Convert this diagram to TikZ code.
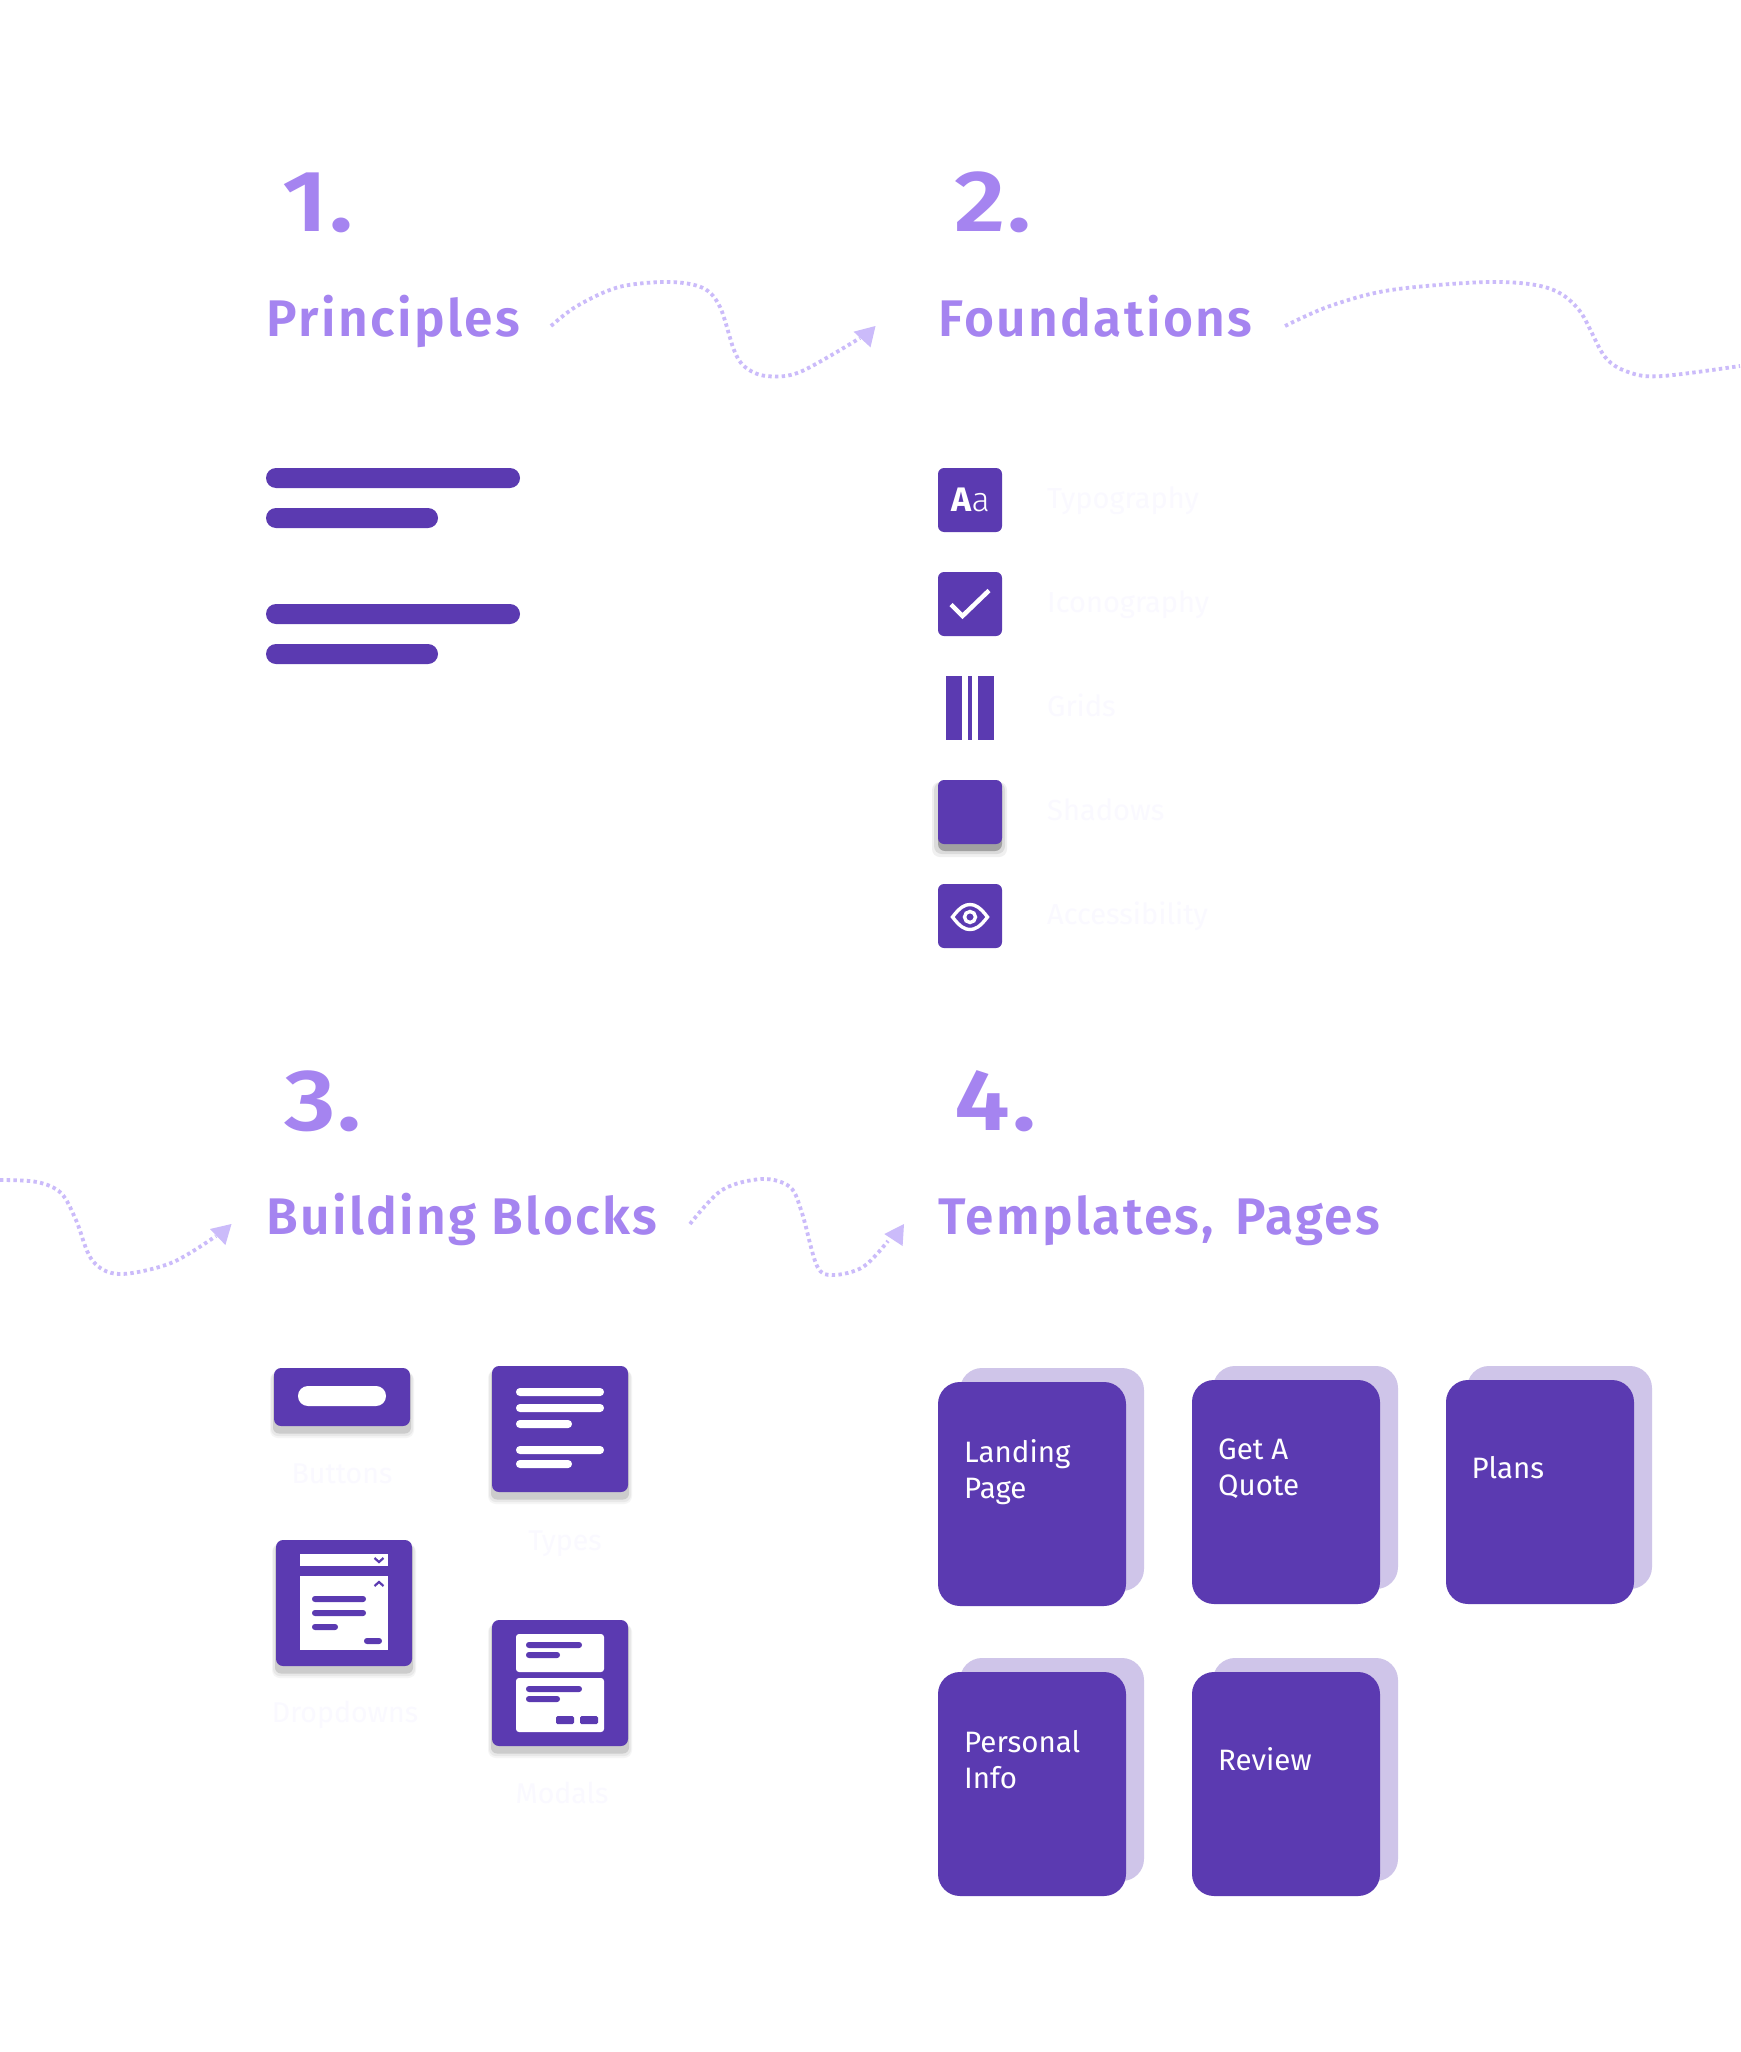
\documentclass[tikz,border=0pt]{standalone}
\usepackage{fontspec}
\setmainfont{Fira Sans}
\newfontfamily\headfont[LetterSpace=4.5]{Fira Sans SemiBold}
\newfontfamily\numfont[FakeStretch=1.15,LetterSpace=2.5]{Fira Sans SemiBold}
\newfontfamily\lightfont{Fira Sans Light}
\definecolor{brand}{HTML}{5B3AB1}
\definecolor{headc}{HTML}{A584F0}
\definecolor{backc}{HTML}{CFC5E9}
\definecolor{arrowc}{HTML}{CBBBFA}
\definecolor{ghostc}{HTML}{FAF9FF}
\tikzset{
  x=1pt,y=-1pt,
  numlabel/.style={anchor=base west,inner sep=0pt,text=headc,font={\fontsize{87}{87}\selectfont\numfont}},
  headlabel/.style={anchor=base west,inner sep=0pt,text=headc,font={\fontsize{51.5}{51.5}\selectfont\headfont}},
  cardlabel/.style={anchor=base west,inner sep=0pt,text=white,font={\fontsize{29.5}{36}\selectfont}},
  ghostleft/.style={anchor=base west,inner sep=0pt,text=ghostc,font={\fontsize{29}{29}\selectfont}},
  ghostmid/.style={anchor=base,inner sep=0pt,text=ghostc,font={\fontsize{28.5}{28.5}\selectfont}},
  wave/.style={draw=arrowc,line width=3.8pt,dash pattern=on 3.4pt off 3.3pt},
  tipfill/.style={fill=arrowc,draw=none},
}
\newcommand{\rbox}[6]{\fill[#1,rounded corners=#2pt] (#3,#4) rectangle (#5,#6);}
\newcommand{\softshadow}[4]{%
  \rbox{black!4}{8}{#1-4}{#2+4}{#3+4}{#4+12}
  \rbox{black!9}{7}{#1-3}{#2+4}{#3+3}{#4+10}
  \rbox{black!20}{6}{#1-1}{#2+4}{#3+1}{#4+7.5}
}
\begin{document}
\begin{tikzpicture}
\useasboundingbox (0,0) rectangle (1740,2052);
\fill[white] (0,0) rectangle (1740,2052);

% headings
\node[numlabel] (n1) at (282,232) {1.};
\node[headlabel] (h1) at (266.5,336) {Principles};
\node[numlabel] (n2) at (954,232) {2.};
\node[headlabel] (h2) at (938.5,336) {Foundations};
\node[numlabel] (n3) at (284,1130) {3.};
\node[headlabel] (h3) at (266.5,1234) {Building Blocks};
\node[numlabel] (n4) at (954,1130) {4.};
\node[headlabel] (h4) at (938.5,1234) {Templates,\hspace{6pt} Pages};

% wavy connectors
\coordinate (w1s) at (551,326); \coordinate (w1e) at (860,338);
\draw[wave] plot[smooth,tension=0.55] coordinates {(w1s) (577,306) (619,287) (669,282) (703,288) (720,307) (734,350) (745,367) (766,376) (800,372) (w1e)};
\fill[tipfill] (875.5,326) -- (853.6,331.7) -- (870.5,347.3) -- cycle;

\coordinate (w2s) at (1285,326); \coordinate (w2e) at (1740,366);
\draw[wave] plot[smooth,tension=0.55] coordinates {(w2s) (1330,306) (1391,290) (1490,282) (1548,288) (1579,310) (1605,357) (1631,373) (1663,376) (w2e)};

\coordinate (w3s) at (0,1180); \coordinate (w3e) at (216,1236);
\draw[wave] plot[smooth,tension=0.55] coordinates {(w3s) (37,1182) (61,1193) (76,1220) (92,1260) (119,1274) (171,1263) (w3e)};
\fill[tipfill] (231.5,1224) -- (210,1229) -- (225.4,1245) -- cycle;

\coordinate (w4s) at (690,1224); \coordinate (w4e) at (888,1241);
\draw[wave] plot[smooth,tension=0.55] coordinates {(w4s) (722,1190) (762,1179) (790,1187) (802,1213) (817,1266) (833,1275) (863,1267) (w4e)};
\fill[tipfill] (904,1224) -- (884.3,1234) -- (902.6,1246) -- cycle;

% Principles lines
\rbox{brand}{10}{266}{468}{520}{488}
\rbox{brand}{10}{266}{508}{438}{528}
\rbox{brand}{10}{266}{604}{520}{624}
\rbox{brand}{10}{266}{644}{438}{664}

% Foundations icons
\rbox{brand}{6}{938}{468}{1002}{532}
\node[anchor=base west,inner sep=0pt,text=white,font={\fontsize{34}{34}\selectfont\bfseries}] (aa1) at (951,511.5) {A};
\node[anchor=base west,inner sep=0pt,text=white,font={\fontsize{34}{34}\selectfont\lightfont}] (aa2) at (971.5,511.5) {a};
\node[ghostleft] (t1) at (1047,508) {Typography};

\rbox{brand}{6}{938}{572}{1002}{636}
\draw[white,line width=4.5pt] (951,604.5) -- (962.5,616) -- (989,590.5);
\node[ghostleft] (t2) at (1047,612) {Iconography};

\fill[brand] (946,676) rectangle (962,740);
\fill[brand] (968,676) rectangle (972,740);
\fill[brand] (978,676) rectangle (994,740);
\node[ghostleft] (t3) at (1047,716) {Grids};

\fill[black!6,rounded corners=8pt] (932,782) rectangle (1007,857);
\fill[black!14,rounded corners=8pt] (934,782) rectangle (1005,854);
\fill[black!37,rounded corners=7pt] (938,784) rectangle (1002,851);
\rbox{brand}{6}{938}{780}{1002}{844}
\node[ghostleft] (t4) at (1047,820.5) {Shadows};

\rbox{brand}{6}{938}{884}{1002}{948}
\draw[white,line width=3.4pt] (952.5,917) .. controls (960,907) and (965,904.5) .. (970,904.5) .. controls (975,904.5) and (980,907) .. (987.5,917) .. controls (980,927) and (975,929.5) .. (970,929.5) .. controls (965,929.5) and (960,927) .. (952.5,917) -- cycle;
\draw[white,line width=3.4pt] (970,917) circle (5.5);
\node[ghostleft] (t5) at (1047,924) {Accessibility};

% Building blocks: buttons
\softshadow{274}{1368}{410}{1426}
\rbox{brand}{7}{274}{1368}{410}{1426}
\rbox{white}{9.9}{298}{1386}{386}{1406}
\node[ghostmid] (b1) at (342,1483) {Buttons};

% text card
\softshadow{492}{1366}{628}{1492}
\rbox{brand}{7}{492}{1366}{628}{1492}
\rbox{white}{3.9}{516}{1388}{604}{1396}
\rbox{white}{3.9}{516}{1404}{604}{1412}
\rbox{white}{3.9}{516}{1420}{572}{1428}
\rbox{white}{3.9}{516}{1446}{604}{1454}
\rbox{white}{3.9}{516}{1460}{572}{1468}
\node[ghostmid] (b2) at (565,1550) {Types};

% dropdown card
\softshadow{276}{1540}{412}{1666}
\rbox{brand}{7}{276}{1540}{412}{1666}
\fill[white] (300,1554) rectangle (388,1566);
\fill[white] (300,1576) rectangle (388,1650);
\draw[brand,line width=2.2pt] (374.5,1558) -- (379,1562) -- (383.5,1558);
\draw[brand,line width=2.2pt] (374.5,1586) -- (379,1582) -- (383.5,1586);
\rbox{brand}{2.9}{312}{1596}{366}{1602}
\rbox{brand}{2.9}{312}{1610}{366}{1616}
\rbox{brand}{2.9}{312}{1624}{338}{1630}
\rbox{brand}{2.9}{364}{1638}{382}{1644}
\node[ghostmid] (b3) at (345,1722) {Dropdowns};

% modal card
\softshadow{492}{1620}{628}{1746}
\rbox{brand}{7}{492}{1620}{628}{1746}
\rbox{white}{3}{516}{1634}{604}{1672}
\rbox{white}{3}{516}{1678}{604}{1732}
\rbox{brand}{2.9}{526}{1642}{582}{1648}
\rbox{brand}{2.9}{526}{1652}{560}{1658}
\rbox{brand}{2.9}{526}{1686}{582}{1692}
\rbox{brand}{2.9}{526}{1696}{560}{1702}
\rbox{brand}{1.5}{556}{1716}{574}{1724}
\rbox{brand}{1.5}{580}{1716}{598}{1724}
\node[ghostmid] (b4) at (562,1803) {Modals};

% template cards
\rbox{backc}{22}{960}{1368}{1144}{1591}
\rbox{brand}{22}{938}{1382}{1126}{1606}
\node[cardlabel,align=left] (c1) at (964,1498) {Landing\\Page};
\rbox{backc}{22}{1213}{1366}{1398}{1589}
\rbox{brand}{22}{1192}{1380}{1380}{1604}
\node[cardlabel,align=left] (c2) at (1218,1495) {Get A\\Quote};
\rbox{backc}{22}{1467}{1366}{1652}{1589}
\rbox{brand}{22}{1446}{1380}{1634}{1604}
\node[cardlabel] (c3) at (1471.5,1478) {Plans};
\rbox{backc}{22}{960}{1658}{1144}{1881}
\rbox{brand}{22}{938}{1672}{1126}{1896}
\node[cardlabel,align=left] (c4) at (964,1788) {Personal\\Info};
\rbox{backc}{22}{1213}{1658}{1398}{1881}
\rbox{brand}{22}{1192}{1672}{1380}{1896}
\node[cardlabel] (c5) at (1218,1770) {Review};
\end{tikzpicture}
\end{document}
